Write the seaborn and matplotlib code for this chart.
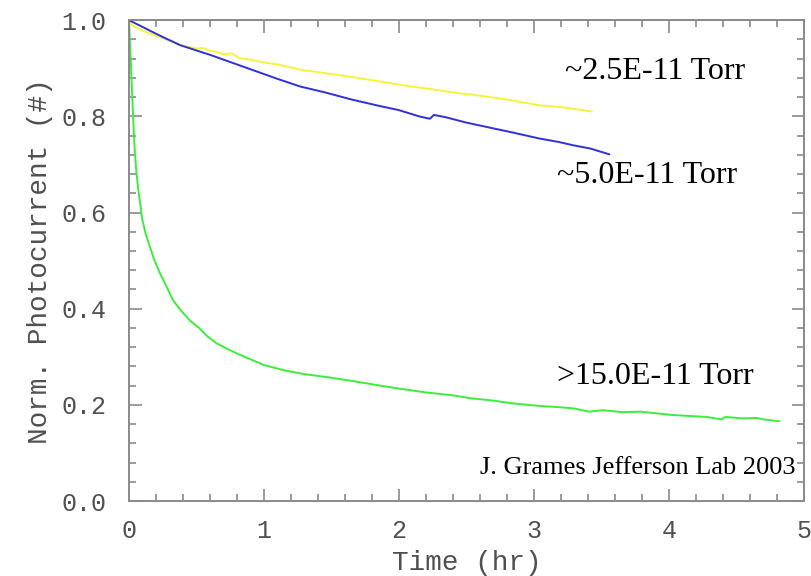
import numpy as np
import pandas as pd
import matplotlib
matplotlib.use("Agg")
import matplotlib.pyplot as plt
from matplotlib.ticker import MultipleLocator
import seaborn as sns

# ---- data ----
t_yellow = [0.0, 0.02, 0.06, 0.10, 0.15, 0.20, 0.25, 0.30, 0.38, 0.45, 0.50, 0.55, 0.60,
            0.65, 0.70, 0.76, 0.82, 0.90, 1.00, 1.10, 1.27, 1.45, 1.65, 1.85, 2.00,
            2.20, 2.40, 2.60, 2.80, 3.04, 3.20, 3.29, 3.43]
v_yellow = [1.000, 0.990, 0.984, 0.978, 0.973, 0.967, 0.963, 0.957, 0.948, 0.944, 0.941, 0.942, 0.936,
            0.934, 0.929, 0.931, 0.921, 0.918, 0.912, 0.908, 0.897, 0.890, 0.882, 0.873, 0.866,
            0.858, 0.850, 0.843, 0.835, 0.823, 0.819, 0.816, 0.810]

t_blue = [0.0, 0.05, 0.10, 0.156, 0.25, 0.38, 0.50, 0.60, 0.70, 0.82, 0.95, 1.10, 1.27,
          1.45, 1.65, 1.85, 2.00, 2.15, 2.23, 2.26, 2.35, 2.50, 2.70, 2.85, 3.04, 3.18,
          3.29, 3.42, 3.56]
v_blue = [1.000, 0.993, 0.986, 0.978, 0.965, 0.948, 0.937, 0.928, 0.918, 0.906, 0.893, 0.878, 0.862,
          0.850, 0.835, 0.822, 0.813, 0.800, 0.795, 0.803, 0.798, 0.787, 0.775, 0.766, 0.754, 0.747,
          0.740, 0.733, 0.721]

t_green = [0.0, 0.007, 0.02, 0.032, 0.044, 0.055, 0.067, 0.085, 0.10, 0.125, 0.156, 0.19, 0.23,
           0.28, 0.326, 0.38, 0.45, 0.52, 0.58, 0.65, 0.72, 0.80, 0.90, 1.00, 1.15, 1.30,
           1.49, 1.65, 1.80, 2.00, 2.20, 2.40, 2.53, 2.70, 2.85, 3.04, 3.15, 3.29, 3.41,
           3.51, 3.66, 3.79, 4.03, 4.28, 4.39, 4.42, 4.55, 4.65, 4.70, 4.82]
v_green = [1.000, 0.958, 0.870, 0.792, 0.723, 0.685, 0.653, 0.615, 0.584, 0.555, 0.528, 0.500, 0.474,
           0.445, 0.418, 0.398, 0.376, 0.360, 0.343, 0.328, 0.318, 0.307, 0.295, 0.283, 0.272, 0.264,
           0.257, 0.250, 0.243, 0.234, 0.226, 0.220, 0.214, 0.209, 0.203, 0.198, 0.196, 0.193, 0.186,
           0.189, 0.185, 0.186, 0.179, 0.175, 0.170, 0.175, 0.172, 0.173, 0.170, 0.166]

labels = ["~2.5E-11 Torr", "~5.0E-11 Torr", ">15.0E-11 Torr"]
credit = "J. Grames Jefferson Lab 2003"
x_ticks = [0, 1, 2, 3, 4, 5]
y_ticks = [0.0, 0.2, 0.4, 0.6, 0.8, 1.0]

# ---- style ----
sns.set_style("ticks")
plt.rcParams["font.family"] = ["Liberation Mono", "DejaVu Sans Mono"]

fig = plt.figure(figsize=(8.11, 5.76), dpi=100)
ax = fig.add_axes([0.159, 0.130, 0.832, 0.835])

series = [(t_yellow, v_yellow, "#f4f43c"),
          (t_blue, v_blue, "#2f2fdc"),
          (t_green, v_green, "#3ded3d")]
for t, v, c in series:
    df = pd.DataFrame({"t": t, "v": v})
    sns.lineplot(data=df, x="t", y="v", color=c, lw=1.4, ax=ax,
                 estimator=None, sort=False)

ax.set_xlim(0, 5)
ax.set_ylim(0, 1.0)
ax.set_xticks(x_ticks)
ax.set_yticks(y_ticks)
ax.set_xticklabels([str(x) for x in x_ticks])
ax.set_yticklabels([f"{y:.1f}" for y in y_ticks])
ax.xaxis.set_minor_locator(MultipleLocator(0.2))
ax.yaxis.set_minor_locator(MultipleLocator(0.04))

spine_c = "#8a8a8a"
for s in ax.spines.values():
    s.set_color(spine_c)
    s.set_linewidth(1.4)
    s.set_visible(True)

ax.tick_params(which="both", direction="in", top=True, right=True,
               color=spine_c, width=1.2, labelcolor="#505050", labelsize=18)
ax.tick_params(which="major", length=9)
ax.tick_params(which="minor", length=5)
ax.tick_params(axis="y", which="major", pad=16)
ax.tick_params(axis="x", which="major", pad=13)

ax.set_xlabel("Time (hr)", fontsize=20, color="#505050", labelpad=5)
ax.set_ylabel("Norm. Photocurrent (#)", fontsize=20, color="#505050", labelpad=6)

serif = ["Liberation Serif", "DejaVu Serif"]
ax.text(3.23, 0.893, labels[0], fontsize=23, family=serif, color="black", va="center", ha="left")
ax.text(3.17, 0.676, labels[1], fontsize=23, family=serif, color="black", va="center", ha="left")
ax.text(3.17, 0.259, labels[2], fontsize=23, family=serif, color="black", va="center", ha="left")
ax.text(4.94, 0.068, credit, fontsize=19, family=serif, color="black", va="center", ha="right")

fig.patch.set_facecolor("white")
ax.set_facecolor("white")
fig.savefig("out.png", dpi=100)
